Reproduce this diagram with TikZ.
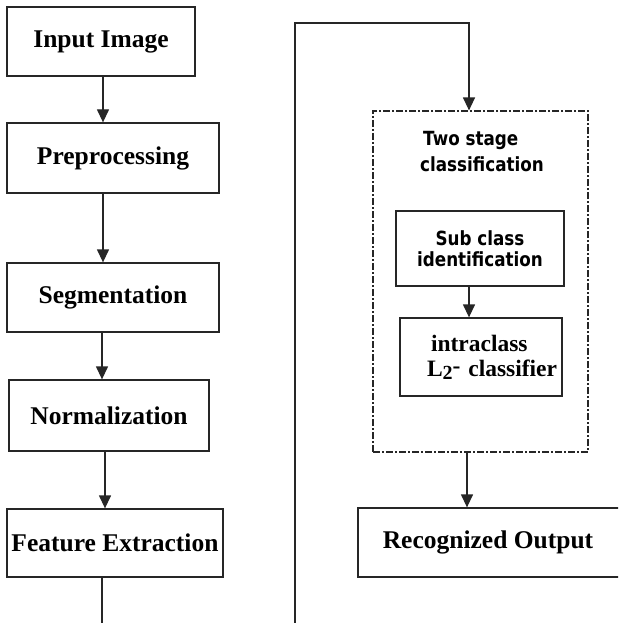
\documentclass[tikz,border=0pt]{standalone}
\usepackage{fontspec}
\setmainfont{Liberation Serif}
\newfontfamily\sansbox[FakeStretch=0.86]{DejaVu Sans}
\usetikzlibrary{arrows.meta,calc}
\tikzset{
  box/.style={draw=black!85, line width=1.3pt, inner sep=0pt, align=center,
    font=\fontsize{25.5}{27}\selectfont\bfseries},
  sbox/.style={draw=black!85, line width=1.3pt, inner sep=0pt, align=center,
    font=\sansbox\fontsize{19.5}{21}\selectfont\bfseries},
  dashbox/.style={draw=black!85, line width=1.2pt, inner sep=0pt,
    dash pattern=on 7pt off 2pt on 2pt off 2pt},
  conn/.style={draw=black!85, line width=1.3pt},
  arr/.style={conn, -{Triangle[length=13pt,width=12pt]}},
}
\begin{document}
\begin{tikzpicture}[x=1pt,y=-1pt]
\useasboundingbox (0,0) rectangle (618,623);
\clip (0,0) rectangle (618,623);
\fill[white] (0,0) rectangle (618,623);
% left column
\node[box, minimum width=188pt, minimum height=69pt] (in) at (101,41.5) {Input Image};
\node[box, minimum width=212pt, minimum height=70pt] (pre) at (113,158) {Preprocessing};
\node[box, minimum width=212pt, minimum height=69pt] (seg) at (113,297.5) {Segmentation};
\node[box, minimum width=200pt, minimum height=71pt] (norm) at (109,415.5) {Normalization};
\node[box, minimum width=216pt, minimum height=68pt] (feat) at (115,543) {Feature Extraction};
% right column
\node[dashbox, minimum width=215pt, minimum height=341pt] (two) at (480.5,281.5) {};
\node[anchor=north west, align=left, inner sep=0pt,
  font=\sansbox\fontsize{19.5}{26}\selectfont\bfseries] (twol) at (420,131) {\hspace*{3pt}Two stage\\classification};
\node[sbox, minimum width=168pt, minimum height=75pt] (sub) at (480,248.5) {Sub class\\identification};
\node[box, minimum width=162pt, minimum height=78pt, text width=162pt, align=left,
  font=\fontsize{23.5}{25}\selectfont\bfseries] (intra) at (481,357)
  {\hspace*{31pt}intraclass\\\hspace*{27pt}L\raisebox{-3pt}{\fontsize{20}{20}\selectfont 2}\raisebox{3pt}{-} classifier};
\node[box, minimum width=267pt, minimum height=69pt] (rec) at (491.5,542.5) {\hspace*{-7pt}Recognized Output};
% connectors
\coordinate (fb) at (102,640);
\coordinate (rb) at (295,640);
\coordinate (rt) at (295,23);
\draw[arr] ([xshift=2pt]in.south) -- ([xshift=2pt]in.south |- pre.north);
\draw[arr] ([xshift=-10pt]pre.south) -- ([xshift=-10pt]pre.south |- seg.north);
\draw[arr] ([xshift=-11pt]seg.south) -- ([xshift=-11pt]seg.south |- norm.north);
\draw[arr] ([xshift=-4pt]norm.south) -- ([xshift=-4pt]norm.south |- feat.north);
\draw[conn] ([xshift=-13pt]feat.south) -- ([xshift=-13pt]feat.south |- fb);
\draw[arr] (rb) -- (rt) -| ([xshift=-11.5pt]two.north);
\draw[arr] ([xshift=-11pt]sub.south) -- ([xshift=-11pt]sub.south |- intra.north);
\draw[arr] ([xshift=-13.5pt]two.south) -- ([xshift=-13.5pt]two.south |- rec.north);
\end{tikzpicture}
\end{document}
